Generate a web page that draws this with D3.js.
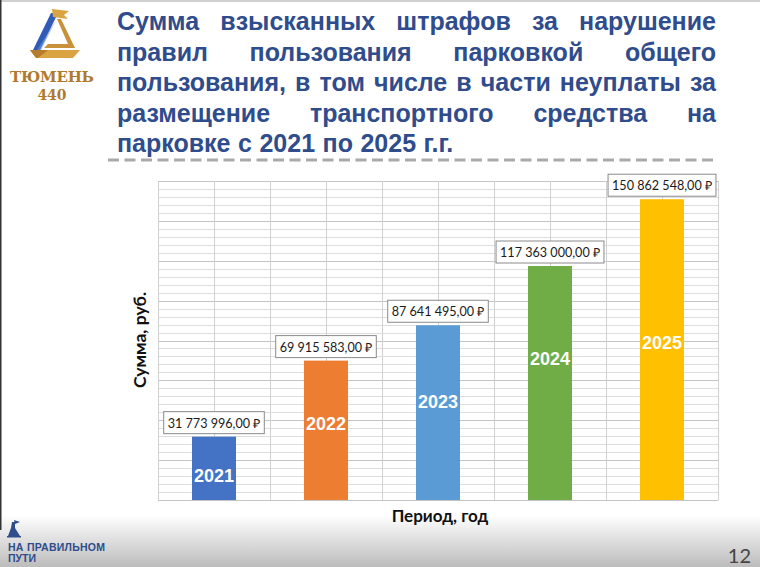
<!DOCTYPE html>
<html><head><meta charset="utf-8">
<script src="https://cdn.jsdelivr.net/npm/d3@7"></script>
<style>
html,body{margin:0;padding:0;background:#fff;}
svg{display:block;}
</style></head>
<body>
<svg id="c" width="760" height="567"></svg>
<script>
// ---- data ----
const categories = ["2021", "2022", "2023", "2024", "2025"];
const values = [31773996, 69915583, 87641495, 117363000, 150862548];
const valueLabels = ["31 773 996,00 ₽", "69 915 583,00 ₽", "87 641 495,00 ₽", "117 363 000,00 ₽", "150 862 548,00 ₽"];
const yearLabelLevels = [12.5e6, 38.6e6, 49.2e6, 71.2e6, 79.2e6];
const barColors = ["#4472C4", "#ED7D31", "#5B9BD5", "#70AD47", "#FFC000"];
const yMax = 160e6;
const minorStep = 4e6;
const majorStep = 20e6;
const titleLines = [
  "Сумма взысканных штрафов за нарушение",
  "правил пользования парковкой общего",
  "пользования, в том числе в части неуплаты за",
  "размещение транспортного средства на",
  "парковке с 2021 по 2025 г.г."
];
const yTitle = "Сумма, руб.";
const xTitle = "Период, год";

const svg = d3.select("#c");

// background gradient at bottom
const defs = svg.append("defs");
const g1 = defs.append("linearGradient").attr("id","bot").attr("x1",0).attr("y1",0).attr("x2",0).attr("y2",1);
g1.append("stop").attr("offset","0%").attr("stop-color","#ffffff");
g1.append("stop").attr("offset","100%").attr("stop-color","#bcbcbc");
svg.append("rect").attr("x",0).attr("y",0).attr("width",760).attr("height",567).attr("fill","#fff");
svg.append("rect").attr("x",0).attr("y",515).attr("width",760).attr("height",52).attr("fill","url(#bot)");
svg.append("rect").attr("x",0).attr("y",0).attr("width",760).attr("height",2).attr("fill","#d0d0d0");
svg.append("rect").attr("x",0).attr("y",0).attr("width",1.5).attr("height",530).attr("fill","#333");

// ---- logo top-left ----
const logo = svg.append("g");
logo.append("polygon").attr("points","33,50 40,50 58,13 51,13").attr("fill","#2F5BB7");
logo.append("polygon").attr("points","37,50 41,50 56,20").attr("fill","#6B8FD8").attr("opacity",0.6);
logo.append("polygon").attr("points","52,9 69,11 64,15 68,19 53,17").attr("fill","#D9A441");
logo.append("polygon").attr("points","57,19 61,19 75,48 44,48 48,44 68,44").attr("fill","#C9913A");
logo.append("polygon").attr("points","30,50 80,50 73,58 36,58").attr("fill","#D9A441");
logo.append("polygon").attr("points","30,50 48,50 38,58 36,58").attr("fill","#B67E2C");
logo.append("text").attr("x",52).attr("y",82).attr("text-anchor","middle")
  .attr("font-family","'DejaVu Serif', 'Liberation Serif', serif").attr("font-weight","bold")
  .attr("font-size",15).attr("fill","#B07A2E").attr("textLength",84).text("ТЮМЕНЬ");
logo.append("text").attr("x",52).attr("y",100).attr("text-anchor","middle")
  .attr("font-family","'DejaVu Serif', 'Liberation Serif', serif").attr("font-weight","bold")
  .attr("font-size",14).attr("fill","#B07A2E").text("440");

// ---- title (justified) ----
const titleG = svg.append("g").attr("font-family","'Liberation Sans', Arial, sans-serif")
  .attr("font-weight","bold").attr("font-size",25).attr("fill","#2F4C8C");
const tLeft = 117, tRight = 716, tBase0 = 30, tLead = 30.5;
titleLines.forEach((line, i) => {
  const words = line.split(" ");
  const ty = tBase0 + i * tLead;
  const nodes = words.map(w => titleG.append("text").attr("y", ty).text(w));
  const widths = nodes.map(n => n.node().getComputedTextLength());
  const total = d3.sum(widths);
  const last = i === titleLines.length - 1;
  const gap = last ? 7.5 : (tRight - tLeft - total) / (words.length - 1);
  let tx = tLeft;
  nodes.forEach((n, k) => { n.attr("x", tx); tx += widths[k] + gap; });
});
svg.append("line").attr("x1",108).attr("x2",716).attr("y1",160).attr("y2",160)
  .attr("stroke","#A9A9A9").attr("stroke-width",3).attr("stroke-dasharray","11,5.5");

// ---- chart ----
const pLeft = 158, pRight = 718, pTop = 181, pBottom = 500;
const x = d3.scaleBand().domain(categories).range([pLeft, pRight]).padding(0);
const y = d3.scaleLinear().domain([0, yMax]).range([pBottom, pTop]);
const barW = 44;

const grid = svg.append("g");
const minorTicks = d3.range(0, yMax + 1, minorStep);
grid.selectAll("line.minor").data(minorTicks).join("line")
  .attr("x1", pLeft).attr("x2", pRight)
  .attr("y1", d => Math.round(y(d)) + 0.5).attr("y2", d => Math.round(y(d)) + 0.5)
  .attr("stroke", d => (d % majorStep === 0) ? "#C4C4C4" : "#DEDEDE").attr("stroke-width", 1);
const vLines = [];
categories.forEach(c => { vLines.push(x(c)); vLines.push(x(c) + x.bandwidth()/2); });
vLines.push(pRight);
grid.selectAll("line.v").data(vLines).join("line")
  .attr("x1", d => Math.round(d) + 0.5).attr("x2", d => Math.round(d) + 0.5)
  .attr("y1", pTop).attr("y2", pBottom).attr("stroke", "#D0D0D0");
grid.append("line").attr("x1",pLeft).attr("x2",pRight).attr("y1",pBottom+0.5).attr("y2",pBottom+0.5).attr("stroke","#C4C4C4");

// bars
svg.selectAll("rect.bar").data(categories).join("rect").attr("class","bar")
  .attr("x", (c) => x(c) + (x.bandwidth() - barW) / 2)
  .attr("width", barW)
  .attr("y", (c, i) => y(values[i]))
  .attr("height", (c, i) => y(0) - y(values[i]))
  .attr("fill", (c, i) => barColors[i]);

// year labels inside bars
svg.selectAll("text.yr").data(categories).join("text")
  .attr("x", c => x(c) + x.bandwidth() / 2)
  .attr("y", (c, i) => y(yearLabelLevels[i]))
  .attr("dy", "0.36em").attr("text-anchor", "middle")
  .attr("font-family", "'Liberation Sans', Arial, sans-serif").attr("font-weight", "bold")
  .attr("font-size", 18).attr("fill", "#fff").text(c => c);

// value labels with boxes
const vl = svg.selectAll("g.vl").data(categories).join("g");
vl.each(function(c, i) {
  const g = d3.select(this);
  const cx = x(c) + x.bandwidth() / 2;
  const by = y(values[i]) - 3;
  const t = g.append("text").attr("x", cx).attr("y", by - 6).attr("text-anchor", "middle")
    .attr("font-family", "Lato, 'Open Sans', sans-serif").attr("font-size", 12.6)
    .attr("fill", "#1a1a1a").text(valueLabels[i]);
  const w = t.node().getComputedTextLength();
  g.insert("rect", "text").attr("x", cx - w / 2 - 4).attr("y", by - 22)
    .attr("width", w + 8).attr("height", 22)
    .attr("fill", "#fff").attr("stroke", "#8a8a8a").attr("stroke-width", 1);
});

// axis titles
svg.append("text").attr("transform", "translate(146,340) rotate(-90)")
  .attr("text-anchor", "middle").attr("font-family", "Lato, 'Open Sans', sans-serif")
  .attr("font-weight", "bold").attr("font-size", 17.5).attr("fill", "#111").text(yTitle);
svg.append("text").attr("x", 440).attr("y", 522).attr("text-anchor", "middle")
  .attr("font-family", "Lato, 'Open Sans', sans-serif")
  .attr("font-weight", "bold").attr("font-size", 17).attr("fill", "#111").text(xTitle);

// ---- bottom logo ----
const bl = svg.append("g");
bl.append("polygon").attr("points","12,522 15,522 15,528 20,536 8,536 11,528").attr("fill","#2F4C8C");
bl.append("polygon").attr("points","14,520 20,522 15,524").attr("fill","#2F4C8C");
bl.append("rect").attr("x",7).attr("y",536).attr("width",14).attr("height",1.5).attr("fill","#2F4C8C");
bl.append("text").attr("x",8).attr("y",551).attr("font-family","'Liberation Sans', Arial, sans-serif")
  .attr("font-weight","bold").attr("font-size",10.5).attr("fill","#2F4C8C").attr("textLength",97).text("НА ПРАВИЛЬНОМ");
bl.append("text").attr("x",8).attr("y",562).attr("font-family","'Liberation Sans', Arial, sans-serif")
  .attr("font-weight","bold").attr("font-size",10.5).attr("fill","#2F4C8C").text("ПУТИ");

// page number
svg.append("text").attr("x", 751).attr("y", 563).attr("text-anchor", "end")
  .attr("font-family", "Lato, 'Open Sans', sans-serif").attr("font-size", 20)
  .attr("fill", "#444").text("12");
</script>
</body></html>
